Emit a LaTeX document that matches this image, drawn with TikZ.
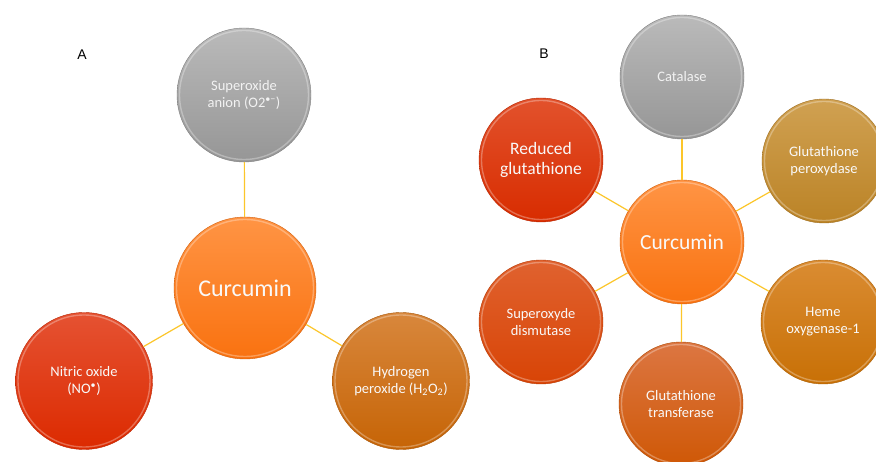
\documentclass[tikz,border=0pt]{standalone}
\usepackage{fontspec}
\setmainfont{Carlito}
\newfontfamily\labelfont{Liberation Sans}
\begin{document}
\begin{tikzpicture}[x=1pt,y=-1pt,
  ball/.style n args={3}{circle, minimum size=#1, inner sep=0pt,
    top color=#2, bottom color=#3, draw=#3!85!black, line width=0.4pt,
    text=white!95!gray, align=center,
    path picture={\draw[white, opacity=0.3, line width=1.4pt]
      (path picture bounding box.center) circle[radius=#1/2-2.5pt];}},
  smalltxt/.style={font=\fontsize{14.5}{17}\selectfont},
  link/.style={draw=linkcol, line width=1.2pt},
  panel/.style={font=\labelfont\fontsize{14}{16}\selectfont, text=black}
]
\definecolor{linkcol}{HTML}{FCC62A}
\definecolor{grayT}{HTML}{BABABA}\definecolor{grayB}{HTML}{969696}
\definecolor{curT}{HTML}{FF9444}\definecolor{curB}{HTML}{F97210}
\definecolor{noT}{HTML}{E55232}\definecolor{noB}{HTML}{DC2A00}
\definecolor{hpT}{HTML}{D8873C}\definecolor{hpB}{HTML}{C66406}
\definecolor{rgT}{HTML}{E2522C}\definecolor{rgB}{HTML}{D82C00}
\definecolor{gpT}{HTML}{D0A152}\definecolor{gpB}{HTML}{BB8326}
\definecolor{sdT}{HTML}{E0622F}\definecolor{sdB}{HTML}{D84406}
\definecolor{hoT}{HTML}{DA8C32}\definecolor{hoB}{HTML}{C87006}
\definecolor{gtT}{HTML}{DC7642}\definecolor{gtB}{HTML}{CF5806}
\useasboundingbox[fill=white] (0,0) rectangle (876,462);

% Panel A
\node[panel] (labA) at (82,55) {A};
\node[ball={134pt}{grayT}{grayB}, smalltxt, text=white!90!gray] (sup) at (244,95) {Superoxide\\anion (O2\textsuperscript{•−})};
\node[ball={142pt}{curT}{curB}, font=\fontsize{24}{28}\selectfont] (curA) at (245,288) {Curcumin};
\node[ball={137pt}{noT}{noB}, smalltxt] (no) at (84,381) {Nitric oxide\\(NO\textsuperscript{•})};
\node[ball={137pt}{hpT}{hpB}, smalltxt] (hp) at (401,381) {Hydrogen\\peroxide (H\textsubscript{2}O\textsubscript{2})};
\draw[link] (curA) -- (sup);
\draw[link] (curA) -- (no);
\draw[link] (curA) -- (hp);

% Panel B
\node[panel] (labB) at (544,54) {B};
\node[ball={124pt}{grayT}{grayB}, smalltxt, text=white!90!gray] (cat) at (682,77) {Catalase};
\node[ball={124pt}{curT}{curB}, font=\fontsize{21.5}{25}\selectfont] (curBn) at (682,242) {Curcumin};
\node[ball={124pt}{rgT}{rgB}, font=\fontsize{17.5}{20}\selectfont] (rg) at (541,160) {Reduced\\glutathione};
\node[ball={124pt}{gpT}{gpB}, smalltxt] (gp) at (824,161) {Glutathione\\peroxydase};
\node[ball={124pt}{sdT}{sdB}, smalltxt] (sd) at (541,322) {Superoxyde\\dismutase};
\node[ball={124pt}{hoT}{hoB}, smalltxt] (ho) at (823,322) {Heme\\oxygenase-1};
\node[ball={124pt}{gtT}{gtB}, smalltxt] (gt) at (681,404) {Glutathione\\transferase};
\draw[link] (curBn) -- (cat);
\draw[link] (curBn) -- (rg);
\draw[link] (curBn) -- (gp);
\draw[link] (curBn) -- (sd);
\draw[link] (curBn) -- (ho);
\draw[link] (curBn) -- (gt);
\end{tikzpicture}
\end{document}
